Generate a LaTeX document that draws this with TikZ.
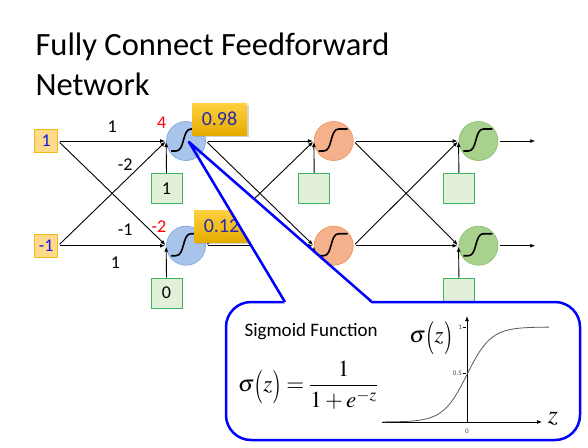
\documentclass[tikz,border=0pt]{standalone}
\usepackage{mathptmx}
\usepackage{graphicx}
\usepackage{fontspec}
\setmainfont{Carlito}
\definecolor{inputfill}{RGB}{255, 217, 140}
\definecolor{inputline}{RGB}{245, 185, 20}
\definecolor{inputtext}{RGB}{20, 20, 230}
\definecolor{neuronblue}{RGB}{169, 196, 235}
\definecolor{neuronblueline}{RGB}{130, 168, 218}
\definecolor{neuronorange}{RGB}{245, 176, 140}
\definecolor{neuronorangeline}{RGB}{240, 150, 90}
\definecolor{neurongreen}{RGB}{169, 209, 142}
\definecolor{neurongreenline}{RGB}{140, 192, 110}
\definecolor{biasfill}{RGB}{226, 240, 217}
\definecolor{biasline}{RGB}{60, 180, 100}
\definecolor{outgold}{RGB}{255, 192, 0}
\definecolor{outtext}{RGB}{40, 40, 170}
\definecolor{calloutblue}{RGB}{0, 0, 255}
\usetikzlibrary{
  arrows.meta,
  calc,
  positioning,
  shadows,
}
\newcommand{\tallparen}[1]{\raisebox{-0.17em}{\scalebox{1}[1.45]{$#1$}}}
\newcommand{\sigz}{\sigma\tallparen{(}z\tallparen{)}}
\tikzset{
  >={Latex[length=5pt,width=4pt]},
  shorten >=1pt,
  link/.style={->, line width=0.9pt, shorten <=2pt},
  inbox/.style={draw=inputline, fill=inputfill, text=inputtext, minimum size=23pt, inner sep=0pt, line width=0.8pt, font=\fontsize{18}{18}\selectfont},
  neuron/.style={circle, draw=#1line, fill=#1, minimum size=39pt, inner sep=0pt, line width=0.7pt},
  biasbox/.style={draw=biasline, fill=biasfill, minimum width=31pt, minimum height=30pt, inner sep=0pt, line width=0.9pt, font=\fontsize{18}{18}\selectfont},
  outbox/.style={top color=outgold!75!white, bottom color=outgold!90!black, drop shadow={shadow xshift=1.5pt, shadow yshift=-1.5pt, opacity=0.35}, text=outtext, minimum width=55pt, minimum height=32pt, inner sep=0pt, font=\fontsize{20}{20}\selectfont},
  weight/.style={inner sep=1pt, font=\fontsize{18}{18}\selectfont},
  sum/.style={text=red, label distance=-1pt, font=\fontsize{18}{18}\selectfont},
  ticklabel/.style={inner sep=1pt, text=black!70, font=\fontsize{7}{7}\selectfont},
  sig/.pic={
    \draw[line width=1.6pt] (-15,10) -- (-10,10) .. controls (-1,10) and (-4,-12) .. (5,-12) -- (15,-12);
  },
}
\begin{document}
\begin{tikzpicture}[x=1pt, y=-1pt, node distance=65pt and 108pt]
    \useasboundingbox (0,0) rectangle (588,447);

    \node[anchor=base west, font=\fontsize{32.5}{32.5}\selectfont] (title) at (32,55) {Fully Connect Feedforward};
    \node[anchor=base west, font=\fontsize{32.5}{32.5}\selectfont] (title2) at (32,95) {Network};

    % neurons
    \node[neuron=neuronblue, label={[sum]150:4}] (a10) at (186,141) {};
    \node[neuron=neuronblue, label={[sum]150:-2}] (a11) [below=of a10] {};
    \node[neuron=neuronorange] (a20) [right=of a10] {};
    \node[neuron=neuronorange] (a21) [right=of a11] {};
    \node[neuron=neurongreen] (a30) [right=105pt of a20] {};
    \node[neuron=neurongreen] (a31) [right=105pt of a21] {};
    \foreach \n in {a10,a11,a20,a21,a30,a31}
        \pic at (\n) {sig};

    % inputs and biases
    \node[inbox] (a00) [left=108pt of a10] {1};
    \node[inbox] (a01) [left=108pt of a11] {-1};
    \node[biasbox, xshift=-19.5pt] (b10) [below=12pt of a10] {1};
    \node[biasbox, xshift=-19.5pt] (b11) [below=12pt of a11] {0};
    \node[biasbox, xshift=-19.5pt] (b20) [below=12pt of a20] {};
    \node[biasbox, xshift=-19.5pt] (b21) [below=12pt of a21] {};
    \node[biasbox, xshift=-19.5pt] (b30) [below=12pt of a30] {};
    \node[biasbox, xshift=-19.5pt] (b31) [below=12pt of a31] {};

    \coordinate[right=38pt of a30] (o30);
    \coordinate[right=38pt of a31] (o31);

    \draw[link] (a00.east) -- node[weight, above=7pt] {1} (a10.west);
    \draw[link] (a00.east) -- node[weight, pos=0.62, below=17pt] {-1} (a11.west);
    \draw[link] (a01.east) -- node[weight, pos=0.62, above=9pt] {-2} (a10.west);
    \draw[link] (a01.east) -- node[weight, pos=0.53, below=10pt] {1} (a11.west);
    \draw[link] (a10.east) -- (a20.west);
    \draw[link] (a10.east) -- (a21.west);
    \draw[link] (a11.east) -- (a20.west);
    \draw[link] (a11.east) -- (a21.west);
    \draw[link] (a20.east) -- (a30.west);
    \draw[link] (a20.east) -- (a31.west);
    \draw[link] (a21.east) -- (a30.west);
    \draw[link] (a21.east) -- (a31.west);
    \draw[link] (a30.east) -- (o30);
    \draw[link] (a31.east) -- (o31);
    \foreach \b/\n in {b10/a10,b11/a11,b20/a20,b21/a21,b30/a30,b31/a31}
        \draw[link, shorten <=0pt] (\b.north) -- (\n.west);

    % outputs of the first layer
    \node[outbox, xshift=33.5pt, yshift=22pt] (y10) at (a10) {0.98};
    \node[outbox, xshift=35.5pt, yshift=19.5pt] (y11) at (a11) {0.12};

    % callout
    \coordinate (ctip) at ($(a10)+(3,1)$);
    \coordinate (cl) at (285,302);
    \coordinate (cr) at (372,302);
    \draw[calloutblue, line width=2.5pt, fill=white, rounded corners=25pt] (226,302) rectangle (580,440);
    \fill[white] ($(ctip)!0.1!(cl)$) -- ($(cl)+(0,2)$) -- ($(cr)+(0,2)$) -- ($(ctip)!0.08!(cr)$) -- cycle;
    \draw[calloutblue, line width=2.5pt, line join=round] (cl) -- (ctip) -- (cr);

    \node[anchor=west, font=\fontsize{19}{19}\selectfont] (sigtitle) at (241,332) {Sigmoid Function};
    \node[font=\fontsize{23}{28}\selectfont] (formula) at (308,385) {$\displaystyle\sigz=\frac{1}{1+e^{-z}}$};

    % plot
    \draw[line width=0.8pt, ->] (382,422) -- (543,422);
    \draw[line width=0.8pt, ->] (467,422) -- (467,315);
    \draw[line width=0.5pt] (463,373) -- (467,373);
    \draw[line width=0.5pt] (463,327) -- (467,327);
    \node[ticklabel, anchor=east] (t05) at (463,373) {0.5};
    \node[ticklabel, anchor=east] (t1) at (463,327) {1};
    \node[ticklabel] (t0) at (467,431) {0};
    \draw[black!65, line width=0.8pt, domain=-7:6.9, samples=80] plot ({467+12*\x},{422-95/(1+exp(-\x))});
    \node[font=\fontsize{26}{26}\selectfont] (zlab) at (553,419) {$z$};
    \node[font=\fontsize{23}{28}\selectfont] (siglab) at (431,338) {$\sigz$};

\end{tikzpicture}
\end{document}
